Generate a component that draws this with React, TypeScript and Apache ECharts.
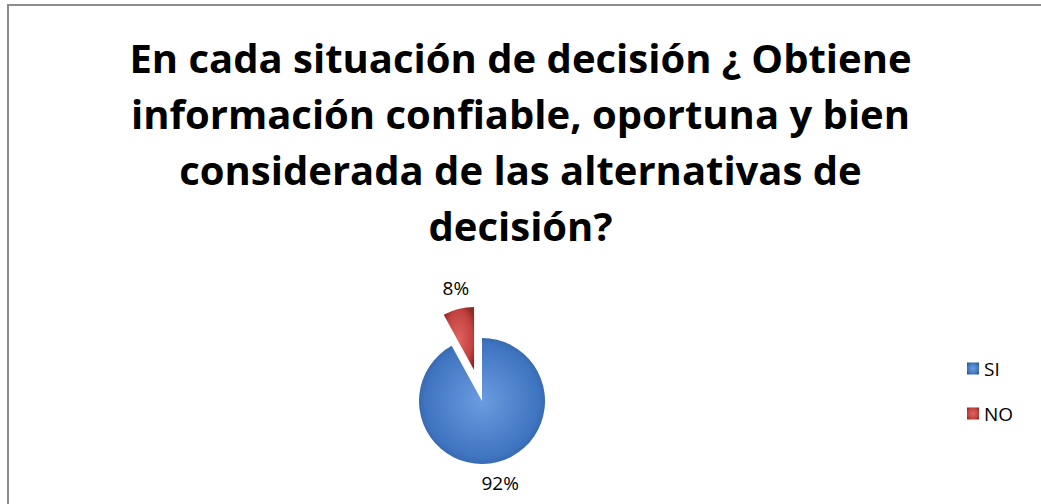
import React, { useEffect, useRef } from "react";
import * as echarts from "echarts";

const titleLines = [
  "En cada situación de decisión ¿ Obtiene",
  "información confiable, oportuna y bien",
  "considerada de las alternativas de",
  "decisión?",
];
const categories = ["SI", "NO"];
const values = [92, 8];
const sliceColors = [
  ["#6b9ce0", "#3f74c0", "#2b5794"],
  ["#e0625e", "#c0413d", "#8f2a27"],
];

export default function App() {
  const ref = useRef<HTMLDivElement>(null);
  useEffect(() => {
    if (!ref.current) return;
    const chart = echarts.init(ref.current, undefined, { renderer: "svg" });
    const data = categories.map((name, i) => ({
      name,
      value: values[i],
      selected: name === "NO",
      itemStyle: {
        color: new echarts.graphic.RadialGradient(0.5, 0.5, 0.6, [
          { offset: 0, color: sliceColors[i][0] },
          { offset: 0.75, color: sliceColors[i][1] },
          { offset: 1, color: sliceColors[i][2] },
        ]),
      },
    }));
    chart.setOption({
      animation: false,
      backgroundColor: "#ffffff",
      title: {
        text: titleLines.join("\n"),
        left: "center",
        top: 24,
        textStyle: {
          fontFamily: "Open Sans",
          fontWeight: "bold",
          fontSize: 40,
          lineHeight: 56,
          color: "#000",
        },
      },
      graphic: [
        {
          type: "rect",
          shape: { x: 8, y: 5, width: 1060, height: 520 },
          style: { fill: "none", stroke: "#8c8c8c", lineWidth: 2 },
          silent: true,
          z: -1,
        },
      ],
      legend: {
        orient: "vertical",
        left: 962,
        top: 354,
        itemWidth: 12,
        itemHeight: 12,
        itemGap: 26,
        icon: "rect",
        data: categories,
        textStyle: { fontFamily: "Open Sans", fontSize: 19, color: "#000" },
      },
      series: [
        {
          type: "pie",
          center: [482, 401],
          radius: 63,
          startAngle: 90,
          clockwise: true,
          selectedMode: "single",
          selectedOffset: 32,
          avoidLabelOverlap: false,
          emphasis: { disabled: true },
          label: {
            show: true,
            position: "outside",
            formatter: "{d}%",
            fontFamily: "Open Sans",
            fontSize: 19,
            color: "#000",
            distanceToLabelLine: -3,
          },
          labelLine: { show: false, length: 22, length2: 0 },
          labelLayout: () => ({ align: "center" }),
          data,
        },
      ],
    });
    return () => chart.dispose();
  }, []);
  return (
    <div
      ref={ref}
      style={{ position: "absolute", left: 0, top: 0, width: 1041, height: 504 }}
    />
  );
}
